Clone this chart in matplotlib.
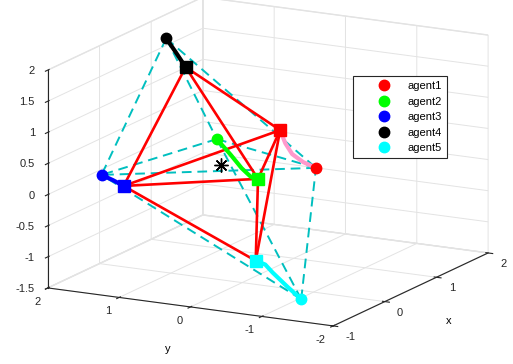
import numpy as np
import matplotlib
matplotlib.use("Agg")
import matplotlib.pyplot as plt
from matplotlib.lines import Line2D
from mpl_toolkits.mplot3d import proj3d

plt.rcParams['font.family'] = ['Liberation Sans', 'DejaVu Sans']
plt.rcParams['font.size'] = 8
plt.rcParams['axes.unicode_minus'] = False
plt.rcParams['grid.color'] = '#e3e3e3'
plt.rcParams['grid.linewidth'] = 0.7

# agent trajectories, start (circle) -> end (square)
agents = ['agent1', 'agent2', 'agent3', 'agent4', 'agent5']
marker_colors = ['#ff0000', '#00ff00', '#0000ff', '#000000', '#00ffff']
path_colors = ['#ff99cc', '#00ff00', '#0000ff', '#000000', '#00ffff']

traj_x = [
    [1.0, 0.85, 0.72, 0.6, 0.5],
    [1.0, 0.88, 0.75, 0.62, 0.5],
    [-0.5, -0.5, -0.5],
    [0.6, 0.45, 0.3],
    [-0.5, -0.38, -0.25, -0.12, 0.0],
]
traj_y = [
    [-0.31, -0.24, -0.18, -0.17, -0.17],
    [1.08, 0.80, 0.55, 0.32, 0.14],
    [1.61, 1.45, 1.30],
    [1.50, 1.255, 1.01],
    [-1.19, -0.91, -0.61, -0.41, -0.19],
]
traj_z = [
    [0.0, 0.14, 0.31, 0.53, 0.78],
    [0.25, 0.09, -0.04, -0.10, -0.05],
    [0.18, 0.12, 0.05],
    [1.96, 1.83, 1.69],
    [-1.39, -1.28, -1.15, -1.10, -1.12],
]

# communication graph (indices into agents)
edges = [(3, 0), (3, 1), (3, 2), (4, 0), (4, 1), (4, 2), (0, 1), (1, 2), (0, 2)]

xticks = [-1, 0, 1, 2]
yticks = [-2, -1, 0, 1, 2]
zticks = [-1.5, -1, -0.5, 0, 0.5, 1, 1.5, 2]

W, H = 513, 364
fig = plt.figure(figsize=(W / 100, H / 100), dpi=100)
ax = fig.add_axes([0.1, 0.1, 0.8, 0.8], projection='3d')
ax.set_proj_type('ortho')
ax.view_init(elev=14.5, azim=-152)
ax.set_box_aspect((330, 323, 225))
ax.computed_zorder = False

start = np.array([[traj_x[i][0], traj_y[i][0], traj_z[i][0]] for i in range(5)])
end = np.array([[traj_x[i][-1], traj_y[i][-1], traj_z[i][-1]] for i in range(5)])

for a, b in edges:
    ax.plot(*zip(start[a], start[b]), color='#00bfbf', lw=1.4, ls=(0, (5, 3)), zorder=2)
for a, b in edges:
    ax.plot(*zip(end[a], end[b]), color='#ff0000', lw=1.9, zorder=3)

for i in range(5):
    ax.plot(traj_x[i], traj_y[i], traj_z[i], color=path_colors[i], lw=3, zorder=4,
            solid_capstyle='round')
    ax.plot([traj_x[i][-1]], [traj_y[i][-1]], [traj_z[i][-1]], 's', color=marker_colors[i],
            ms=8.5, zorder=5)
    ax.plot([traj_x[i][0]], [traj_y[i][0]], [traj_z[i][0]], 'o', color=marker_colors[i],
            ms=7.5, zorder=5)

c = end.mean(axis=0)
ax.plot([c[0]], [c[1]], [c[2]], marker=(8, 2, 0), color='black', ms=10, mew=1.0, zorder=6)

ax.set_xlim(-1, 2)
ax.set_ylim(-2, 2)
ax.set_zlim(-1.5, 2)
ax.set_xticks(xticks)
ax.set_yticks(yticks)
ax.set_zticks(zticks)
ax.set_zticklabels([f'{t:g}' for t in zticks])
ax.set_xlabel('x', labelpad=2)
ax.set_ylabel('y', labelpad=6)
ax.xaxis._axinfo['label']['ha'] = 'left'

for axis in (ax.xaxis, ax.yaxis, ax.zaxis):
    axis.set_pane_color((1, 1, 1, 1))
    axis.pane.set_edgecolor('#e3e3e3')
    axis.line.set_color('#262626')
    axis.line.set_linewidth(0.8)
ax.tick_params(colors='#262626', labelsize=8, pad=0)
ax.tick_params(axis='x', pad=0)
ax.tick_params(axis='y', pad=1)
ax.tick_params(axis='z', pad=-2.5)

# MATLAB-like label anchoring
for t in ax.xaxis.get_major_ticks():
    t.label1.set_ha('left')
    t.label1.set_va('center')
for t in ax.yaxis.get_major_ticks():
    t.label1.set_ha('right')
    t.label1.set_va('center')
for t in ax.zaxis.get_major_ticks():
    t.label1.set_ha('right')
    t.label1.set_va('center')

# fit the projected box to the reference frame
target = np.array([48.0, 488.0, H - 326.0, H + 3.0])
S, cx, cy = 400.0, W / 2, H / 2
for _ in range(3):
    ax.set_position([(cx - S / 2) / W, (cy - S / 2) / H, S / W, S / H])
    fig.canvas.draw()
    corners = np.array(np.meshgrid(ax.get_xlim(), ax.get_ylim(), ax.get_zlim())).reshape(3, -1)
    px, py, _ = proj3d.proj_transform(*corners, ax.M)
    pts = ax.transData.transform(np.column_stack([px, py]))
    cur = [pts[:, 0].min(), pts[:, 0].max(), pts[:, 1].min(), pts[:, 1].max()]
    k = 0.5 * ((target[1] - target[0]) / (cur[1] - cur[0]) +
               (target[3] - target[2]) / (cur[3] - cur[2]))
    off_x = (cur[0] + cur[1]) / 2 - cx
    off_y = (cur[2] + cur[3]) / 2 - cy
    S *= k
    cx = (target[0] + target[1]) / 2 - k * off_x
    cy = (target[2] + target[3]) / 2 - k * off_y
ax.set_position([(cx - S / 2) / W, (cy - S / 2) / H, S / W, S / H])

handles = [Line2D([], [], ls='none', marker='o', color=col, ms=7.5) for col in marker_colors]
leg = fig.legend(handles, agents, loc='upper left', bbox_to_anchor=(353 / W, 1 - 76 / H),
                 borderaxespad=0, fancybox=False, framealpha=1, edgecolor='#262626',
                 handlelength=4.7, labelspacing=0.5, borderpad=0.45, handletextpad=-0.2,
                 fontsize=8)
leg.get_frame().set_linewidth(0.8)

fig.savefig('out.png', dpi=100)
